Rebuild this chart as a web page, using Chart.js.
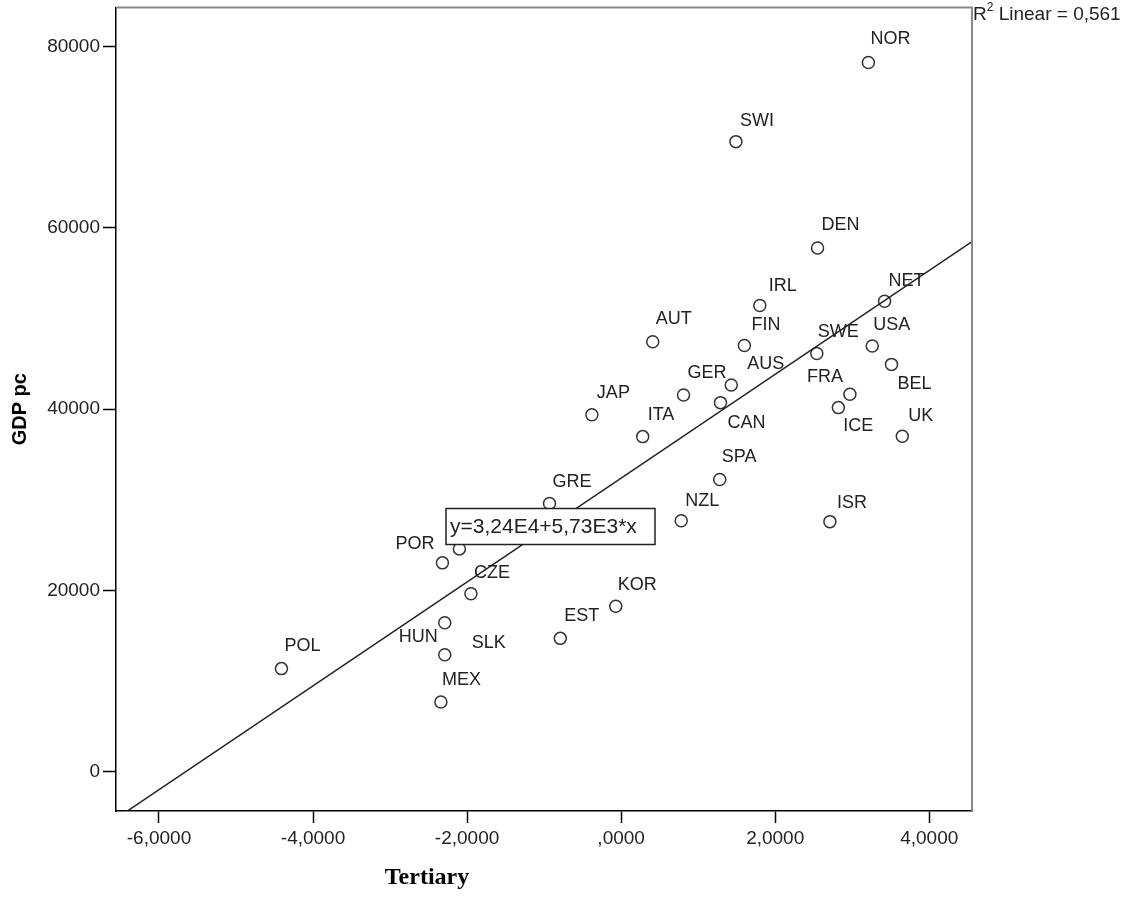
<!DOCTYPE html>
<html>
<head>
  <meta charset="utf-8">
  <title>GDP pc vs Tertiary</title>
  <script src="https://cdn.jsdelivr.net/npm/chart.js"></script>
  <style>
    body { margin: 0; background: #fff; }
  </style>
</head>
<body>
  <canvas id="scatter" width="1129" height="907"></canvas>

  <script>
    // Country codes (one point has no visible label - it sits under the equation box)
    const countries = ['NOR', 'SWI', 'DEN', 'IRL', 'NET', 'AUT', 'FIN', 'SWE', 'USA', 'AUS', 'BEL',
      'GER', 'FRA', 'JAP', 'CAN', 'ICE', 'ITA', 'UK', 'SPA', 'GRE', 'NZL', 'ISR', '',
      'POR', 'CZE', 'KOR', 'HUN', 'EST', 'SLK', 'POL', 'MEX'];
    const tertiary = [3.21, 1.49, 2.55, 1.80, 3.42, 0.41, 1.60, 2.54, 3.26, 1.43, 3.51,
      0.81, 2.97, -0.38, 1.29, 2.82, 0.28, 3.65, 1.28, -0.93, 0.78, 2.71, -2.10,
      -2.32, -1.95, -0.07, -2.29, -0.79, -2.29, -4.41, -2.34];
    const gdpPc = [78260, 69530, 57790, 51450, 51920, 47440, 47040, 46160, 46970, 42670, 44950,
      41570, 41650, 39400, 40730, 40180, 36980, 37030, 32250, 29610, 27700, 27600, 24590,
      23050, 19640, 18270, 16440, 14720, 12920, 11380, 7700];

    // Linear fit reported by the chart
    const fitIntercept = 32400;
    const fitSlope = 5730;
    const fitText = 'y=3,24E4+5,73E3*x';
    const rSquaredText = ' Linear = 0,561';

    // Axis ticks
    const xTicks = [-6, -4, -2, 0, 2, 4];
    const yTicks = [0, 20000, 40000, 60000, 80000];
    const xRange = [-6.558, 4.555];
    const yRange = [-4330, 84330];

    // where each label sits relative to its point: [dx, dy, align]
    const labelSpots = {
      NOR: [2, -23], SWI: [4, -21], DEN: [4, -23], IRL: [9, -19], NET: [4, -20],
      AUT: [3, -23], FIN: [7, -20], SWE: [1, -21], USA: [1, -21], AUS: [16, -21],
      BEL: [6, 20], GER: [4, -22], FRA: [-7, -17, 'right'], JAP: [5, -22], CAN: [7, 20],
      ICE: [5, 18], ITA: [5, -22], UK: [6, -20], SPA: [2, -22], GRE: [3, -21],
      NZL: [4, -20], ISR: [7, -19], POR: [-8, -19, 'right'], CZE: [3, -21], KOR: [2, -21],
      HUN: [-7, 14, 'right'], EST: [4, -22], SLK: [27, -12], POL: [3, -23], MEX: [1, -22]
    };

    // SPSS style: 4 decimals, comma, no leading zero
    function fmtX(v) {
      let s = Math.abs(v).toFixed(4).replace('.', ',');
      if (Math.abs(v) < 1) s = s.replace(/^0/, '');
      return (v < 0 ? '-' : '') + s;
    }

    const points = tertiary.map((x, i) => ({ x: x, y: gdpPc[i] }));
    const fitLine = xRange.map(x => ({ x: x, y: fitIntercept + fitSlope * x }));

    const annotate = {
      id: 'annotate',
      afterDatasetsDraw(chart) {
        const { ctx, chartArea: a } = chart;
        const meta = chart.getDatasetMeta(1);
        ctx.save();

        // point labels
        ctx.font = '18px "Liberation Sans"';
        ctx.fillStyle = '#222';
        ctx.textBaseline = 'middle';
        meta.data.forEach((pt, i) => {
          const name = countries[i];
          if (!name) return;
          const [dx, dy, align] = labelSpots[name];
          ctx.textAlign = align || 'left';
          ctx.fillText(name, pt.x + dx, pt.y + dy);
        });

        // equation box
        const bx = a.left + 330, by = a.top + 501, bw = 209, bh = 36;
        ctx.fillStyle = '#fff';
        ctx.fillRect(bx, by, bw, bh);
        ctx.strokeStyle = '#222';
        ctx.lineWidth = 1.5;
        ctx.strokeRect(bx, by, bw, bh);
        ctx.fillStyle = '#222';
        ctx.font = '21px "Liberation Sans"';
        ctx.textAlign = 'left';
        ctx.fillText(fitText, bx + 4, by + bh / 2 + 1);

        // top and right frame
        ctx.strokeStyle = '#888';
        ctx.lineWidth = 2;
        ctx.beginPath();
        ctx.moveTo(a.left, a.top);
        ctx.lineTo(a.right, a.top);
        ctx.lineTo(a.right, a.bottom);
        ctx.stroke();

        // R squared
        let rx = a.right + 1;
        ctx.font = '19px "Liberation Sans"';
        ctx.fillText('R', rx, 15);
        rx += ctx.measureText('R').width;
        ctx.font = '12px "Liberation Sans"';
        ctx.fillText('2', rx, 8);
        rx += ctx.measureText('2').width;
        ctx.font = '19px "Liberation Sans"';
        ctx.fillText(rSquaredText, rx, 15);

        // x axis title
        ctx.font = 'bold 24px "Liberation Serif"';
        ctx.fillStyle = '#000';
        ctx.textAlign = 'center';
        ctx.fillText('Tertiary', a.left + 311, a.bottom + 67);

        ctx.restore();
      }
    };

    new Chart(document.getElementById('scatter'), {
      type: 'scatter',
      data: {
        datasets: [{
          type: 'line',
          data: fitLine,
          borderColor: '#222',
          borderWidth: 1.5,
          pointRadius: 0,
          fill: false
        }, {
          data: points,
          pointRadius: 6,
          pointHoverRadius: 6,
          borderColor: '#333',
          borderWidth: 1.5,
          backgroundColor: 'rgba(0,0,0,0)'
        }]
      },
      options: {
        responsive: false,
        animation: false,
        events: [],
        layout: { padding: { top: 6, right: 157, bottom: 0, left: 0 } },
        plugins: { legend: { display: false }, tooltip: { enabled: false } },
        scales: {
          x: {
            type: 'linear',
            min: xRange[0],
            max: xRange[1],
            afterBuildTicks: s => { s.ticks = xTicks.map(v => ({ value: v })); },
            afterFit: s => { s.height = 96; s.paddingLeft = 0; s.paddingRight = 0; },
            ticks: {
              callback: v => fmtX(v),
              color: '#222',
              font: { family: 'Liberation Sans', size: 19 },
              padding: 4,
              maxRotation: 0
            },
            grid: { drawOnChartArea: false, tickLength: 12, color: '#000', tickWidth: 1.5 },
            border: { color: '#000', width: 1.5 }
          },
          y: {
            min: yRange[0],
            max: yRange[1],
            afterBuildTicks: s => { s.ticks = yTicks.map(v => ({ value: v })); },
            afterFit: s => { s.width = 116; s.paddingTop = 0; s.paddingBottom = 0; },
            ticks: {
              callback: v => String(v),
              color: '#222',
              font: { family: 'Liberation Sans', size: 19 },
              padding: 3
            },
            grid: { drawOnChartArea: false, tickLength: 13, color: '#000', tickWidth: 1.5 },
            border: { color: '#000', width: 1.5 },
            title: {
              display: true,
              text: 'GDP pc',
              color: '#000',
              font: { family: 'Liberation Sans', size: 20, weight: 'bold' },
              padding: { top: 8, bottom: 0 }
            }
          }
        }
      },
      plugins: [annotate]
    });
  </script>
</body>
</html>
